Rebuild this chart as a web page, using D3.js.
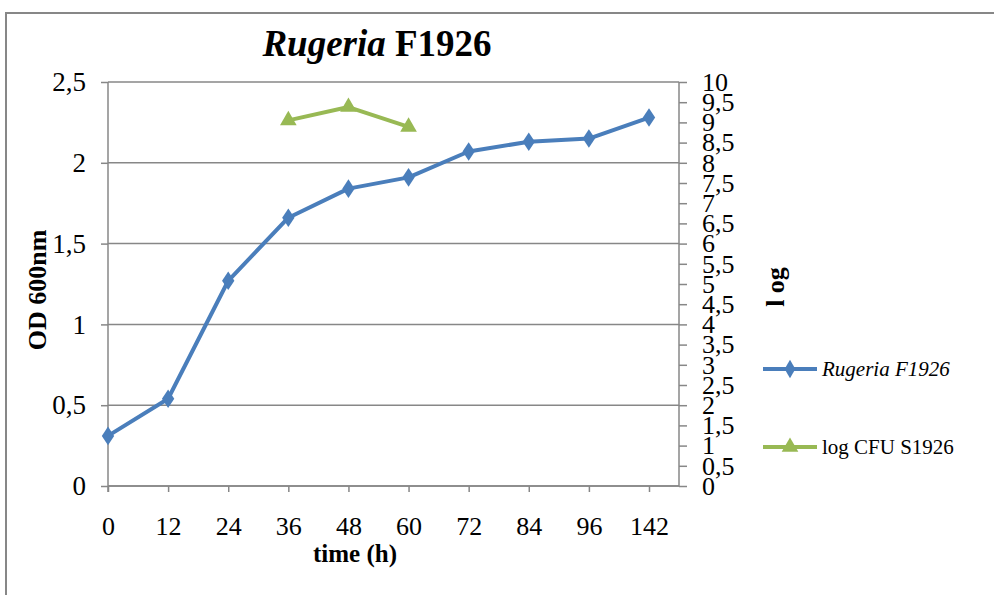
<!DOCTYPE html>
<html>
<head>
<meta charset="utf-8">
<script src="https://cdn.jsdelivr.net/npm/d3@7"></script>
<style>
  body { margin: 0; background: #fff; }
  text { font-family: "Liberation Serif", "Times New Roman", serif; fill: #000; }
</style>
</head>
<body>
<svg id="chart" width="994" height="595"></svg>
<script>
// Growth of Rugeria F1926: optical density (left axis) and log CFU (right axis)
const timeLabels = ["0", "12", "24", "36", "48", "60", "72", "84", "96", "142"];
const odValues   = [0.31, 0.54, 1.27, 1.66, 1.84, 1.91, 2.07, 2.13, 2.15, 2.28];
const cfuTimes   = ["36", "48", "60"];
const cfuValues  = [9.05, 9.38, 8.89];
const odTicks    = [0, 0.5, 1, 1.5, 2, 2.5];
const logTicks   = [0, 0.5, 1, 1.5, 2, 2.5, 3, 3.5, 4, 4.5, 5, 5.5, 6, 6.5, 7, 7.5, 8, 8.5, 9, 9.5, 10];

const BLUE = "#4a7ebb", GREEN = "#98b954", GRID = "#878787";
const svg = d3.select("#chart");
const plot = { left: 108, right: 679, top: 82, bottom: 486 };
const fmt = v => String(v).replace(".", ",");

// outer chart frame
svg.append("path")
  .attr("d", "M6,595 L6,13 L994,13")
  .attr("fill", "none").attr("stroke", GRID).attr("stroke-width", 2);

// scales
const x = d3.scalePoint().domain(timeLabels).range([plot.left, 649]).padding(0);
const yOD = d3.scaleLinear().domain([0, 2.5]).range([plot.bottom, plot.top]);
const yLog = d3.scaleLinear().domain([0, 10]).range([plot.bottom, plot.top]);

// horizontal gridlines
svg.append("g").selectAll("line").data(odTicks).join("line")
  .attr("x1", plot.left).attr("x2", plot.right)
  .attr("y1", d => yOD(d)).attr("y2", d => yOD(d))
  .attr("stroke", GRID).attr("stroke-width", 1.5);

// left axis
const gL = svg.append("g").attr("transform", `translate(${plot.left},0)`)
  .call(d3.axisLeft(yOD).tickValues(odTicks).tickFormat(fmt).tickSize(7).tickPadding(15));
gL.select(".domain").remove();
gL.append("line").attr("y1", plot.top).attr("y2", plot.bottom + 6)
  .attr("stroke", GRID).attr("stroke-width", 1.5);
gL.selectAll(".tick line").attr("stroke", GRID).attr("stroke-width", 1.5);
gL.selectAll(".tick text").attr("font-size", 27).attr("font-family", "Liberation Serif");

// right axis
const gR = svg.append("g").attr("transform", `translate(${plot.right},0)`)
  .call(d3.axisRight(yLog).tickValues(logTicks).tickFormat(fmt).tickSize(8).tickPadding(15));
gR.select(".domain").remove();
gR.append("line").attr("y1", plot.top).attr("y2", plot.bottom)
  .attr("stroke", GRID).attr("stroke-width", 1.5);
gR.selectAll(".tick line").attr("stroke", GRID).attr("stroke-width", 1.5);
gR.selectAll(".tick text").attr("font-size", 26).attr("font-family", "Liberation Serif");

// bottom axis
const gB = svg.append("g").attr("transform", `translate(0,${plot.bottom})`)
  .call(d3.axisBottom(x).tickSize(6).tickPadding(25));
gB.select(".domain").remove();
gB.append("line").attr("x1", plot.left).attr("x2", plot.right)
  .attr("stroke", GRID).attr("stroke-width", 1.5);
gB.selectAll(".tick line").attr("stroke", GRID).attr("stroke-width", 1.5);
gB.selectAll(".tick text").attr("font-size", 26).attr("font-family", "Liberation Serif");

// OD series
const diamond = d3.symbol().type(d3.symbolDiamond).size(100);
svg.append("path").datum(odValues)
  .attr("d", d3.line().x((d, i) => x(timeLabels[i])).y(d => yOD(d)))
  .attr("fill", "none").attr("stroke", BLUE).attr("stroke-width", 4).attr("stroke-linejoin", "round");
svg.append("g").selectAll("path").data(odValues).join("path")
  .attr("d", diamond).attr("fill", BLUE)
  .attr("transform", (d, i) => `translate(${x(timeLabels[i])},${yOD(d)}) scale(1.15,1)`);

// log CFU series
const tri = d3.symbol().type(d3.symbolTriangle).size(120);
svg.append("path").datum(cfuValues)
  .attr("d", d3.line().x((d, i) => x(cfuTimes[i])).y(d => yLog(d)))
  .attr("fill", "none").attr("stroke", GREEN).attr("stroke-width", 4).attr("stroke-linejoin", "round");
svg.append("g").selectAll("path").data(cfuValues).join("path")
  .attr("d", tri).attr("fill", GREEN)
  .attr("transform", (d, i) => `translate(${x(cfuTimes[i])},${yLog(d)})`);

// title
const title = svg.append("text").attr("x", 377).attr("y", 56)
  .attr("text-anchor", "middle").attr("font-size", 37).attr("font-weight", "bold");
title.append("tspan").attr("font-style", "italic").text("Rugeria");
title.append("tspan").text(" F1926");

// axis titles
svg.append("text").attr("transform", "translate(46,290) rotate(-90)")
  .attr("text-anchor", "middle").attr("font-size", 26).attr("font-weight", "bold").text("OD 600nm");
svg.append("text").attr("transform", "translate(784,287) rotate(-90)")
  .attr("text-anchor", "middle").attr("font-size", 26).attr("font-weight", "bold").text("l og");
svg.append("text").attr("x", 355).attr("y", 562)
  .attr("text-anchor", "middle").attr("font-size", 25).attr("font-weight", "bold").text("time (h)");

// legend
const legend = [
  { label: "Rugeria F1926", color: BLUE, sym: diamond, italic: true, y: 369 },
  { label: "log CFU S1926", color: GREEN, sym: tri, italic: false, y: 447 }
];
const lg = svg.append("g").selectAll("g").data(legend).join("g")
  .attr("transform", d => `translate(0,${d.y})`);
lg.append("line").attr("x1", 763).attr("x2", 817)
  .attr("stroke", d => d.color).attr("stroke-width", 4);
lg.append("path").attr("d", d => d.sym()).attr("fill", d => d.color)
  .attr("transform", "translate(790,0)");
lg.append("text").attr("x", 822).attr("y", 7).attr("font-size", 21)
  .attr("font-style", d => d.italic ? "italic" : "normal").text(d => d.label);
</script>
</body>
</html>
